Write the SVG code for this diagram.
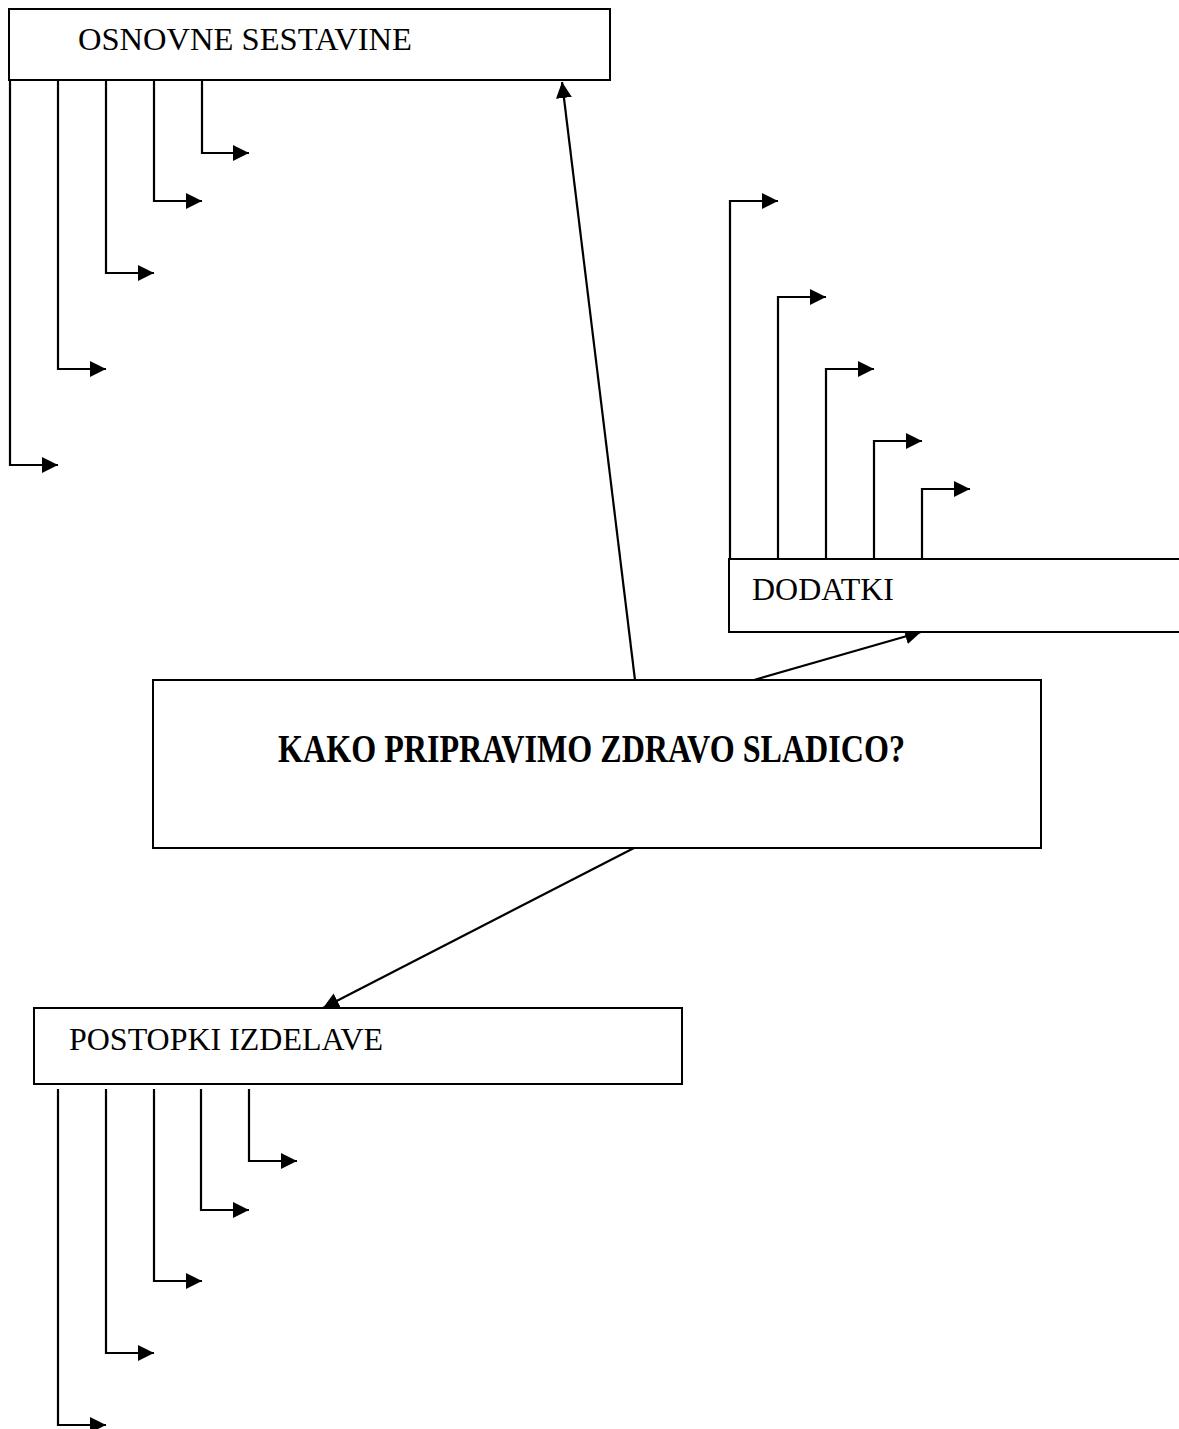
<svg xmlns="http://www.w3.org/2000/svg" width="1179" height="1429" viewBox="0 0 1179 1429">
  <defs>
    <marker id="ah" markerUnits="userSpaceOnUse" markerWidth="18" markerHeight="18" refX="16" refY="8" orient="auto">
      <path d="M0,0 L16,8 L0,16 Z" fill="#000"/>
    </marker>
    <style>
      .box { fill: #fff; stroke: #000; stroke-width: 2; }
      .lbl { font-family: "Liberation Serif", "Times New Roman", serif; font-size: 31px; fill: #000; }
      .title { font-weight: bold; font-size: 40px; }
      .conn path, .conn line { fill: none; stroke: #000; stroke-width: 2.2; marker-end: url(#ah); }
    </style>
  </defs>
  <rect width="1179" height="1429" fill="#fff"/>

  <g id="connectors" class="conn">
    <!-- main arrows -->
    <line x1="635" y1="680" x2="562" y2="82"/>
    <line x1="754" y1="680" x2="921" y2="632"/>
    <line x1="634" y1="848" x2="323" y2="1008"/>
    <!-- OSNOVNE branches -->
    <path d="M10,80 V465 H58"/>
    <path d="M58,80 V369 H106"/>
    <path d="M106,80 V273 H154"/>
    <path d="M154,80 V201 H202"/>
    <path d="M202,80 V153 H249"/>
    <!-- DODATKI branches -->
    <path d="M730,559 V201 H778"/>
    <path d="M778,559 V297 H826"/>
    <path d="M826,559 V369 H874"/>
    <path d="M874,559 V441 H922"/>
    <path d="M922,559 V489 H970"/>
    <!-- POSTOPKI branches -->
    <path d="M58,1089 V1425 H106"/>
    <path d="M106,1089 V1353 H154"/>
    <path d="M154,1089 V1281 H202"/>
    <path d="M201,1089 V1210 H249"/>
    <path d="M249,1089 V1161 H297"/>
  </g>

  <g id="osnovne">
    <rect class="box" x="9" y="9" width="601" height="71"/>
    <text class="lbl" x="78" y="50" textLength="334" lengthAdjust="spacingAndGlyphs">OSNOVNE SESTAVINE</text>
  </g>

  <g id="dodatki">
    <rect class="box" x="729" y="559" width="460" height="73"/>
    <text class="lbl" x="752" y="600" textLength="142" lengthAdjust="spacingAndGlyphs">DODATKI</text>
  </g>

  <g id="center">
    <rect class="box" x="153" y="680" width="888" height="168"/>
    <text class="lbl title" x="278" y="762" textLength="627" lengthAdjust="spacingAndGlyphs">KAKO PRIPRAVIMO ZDRAVO SLADICO?</text>
  </g>

  <g id="postopki">
    <rect class="box" x="34" y="1008" width="648" height="76"/>
    <text class="lbl" x="69" y="1050" textLength="314" lengthAdjust="spacingAndGlyphs">POSTOPKI IZDELAVE</text>
  </g>
</svg>
